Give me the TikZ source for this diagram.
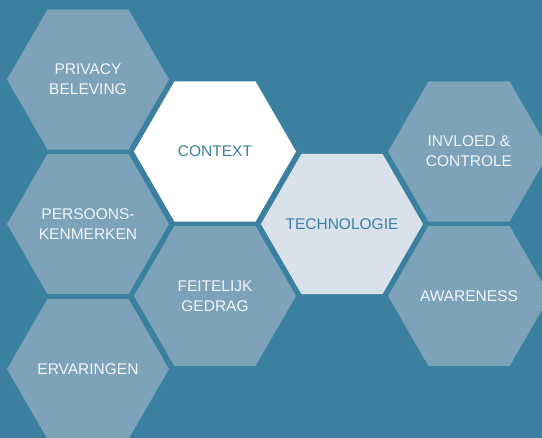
\documentclass[tikz,border=0pt]{standalone}
\usepackage{fontspec}
\setmainfont{Liberation Sans}
\usetikzlibrary{shapes.geometric}
\definecolor{bgblue}{HTML}{3B809F}
\definecolor{hexgray}{HTML}{7DA3BA}
\definecolor{hexlight}{HTML}{D9E1EA}
\definecolor{txtwhite}{HTML}{F2F5F8}
\tikzset{
  hexbase/.style={regular polygon, regular polygon sides=6, minimum size=162pt,
    inner sep=0pt, draw=none},
  hexlabel/.style={align=center, inner sep=0pt, font=\fontsize{15.5}{20}\selectfont},
  hexgrey/.style={hexbase, fill=hexgray},
  hexwhite/.style={hexbase, fill=white},
  hexpale/.style={hexbase, fill=hexlight},
  lightlabel/.style={hexlabel, text=txtwhite},
  darklabel/.style={hexlabel, text=bgblue}
}
\begin{document}
\begin{tikzpicture}[x=1pt,y=1pt]
\fill[bgblue] (0,0) rectangle (542,-438);
\useasboundingbox (0,0) rectangle (542,-438);
\begin{scope}
\clip (0,0) rectangle (542,-438);
\node[hexgrey] (privacy) at (88,-79.5) {};
\node[hexgrey] (persoons) at (88,-224) {};
\node[hexgrey] (ervaringen) at (88,-369) {};
\node[hexwhite] (context) at (215,-151.5) {};
\node[hexgrey] (feitelijk) at (215,-296) {};
\node[hexpale] (technologie) at (342,-224) {};
\node[hexgrey] (invloed) at (469,-151.5) {};
\node[hexgrey] (awareness) at (469,-296) {};
\end{scope}
\node[lightlabel] (tprivacy) at (privacy.center) {PRIVACY\\BELEVING};
\node[lightlabel] (tpersoons) at (persoons.center) {PERSOONS-\\KENMERKEN};
\node[lightlabel] (tervaringen) at (ervaringen.center) {ERVARINGEN};
\node[darklabel] (tcontext) at (context.center) {CONTEXT};
\node[lightlabel] (tfeitelijk) at (feitelijk.center) {FEITELIJK\\GEDRAG};
\node[darklabel] (ttechnologie) at (technologie.center) {TECHNOLOGIE};
\node[lightlabel] (tinvloed) at (invloed.center) {INVLOED \&\\CONTROLE};
\node[lightlabel] (tawareness) at (awareness.center) {AWARENESS};
\end{tikzpicture}
\end{document}
